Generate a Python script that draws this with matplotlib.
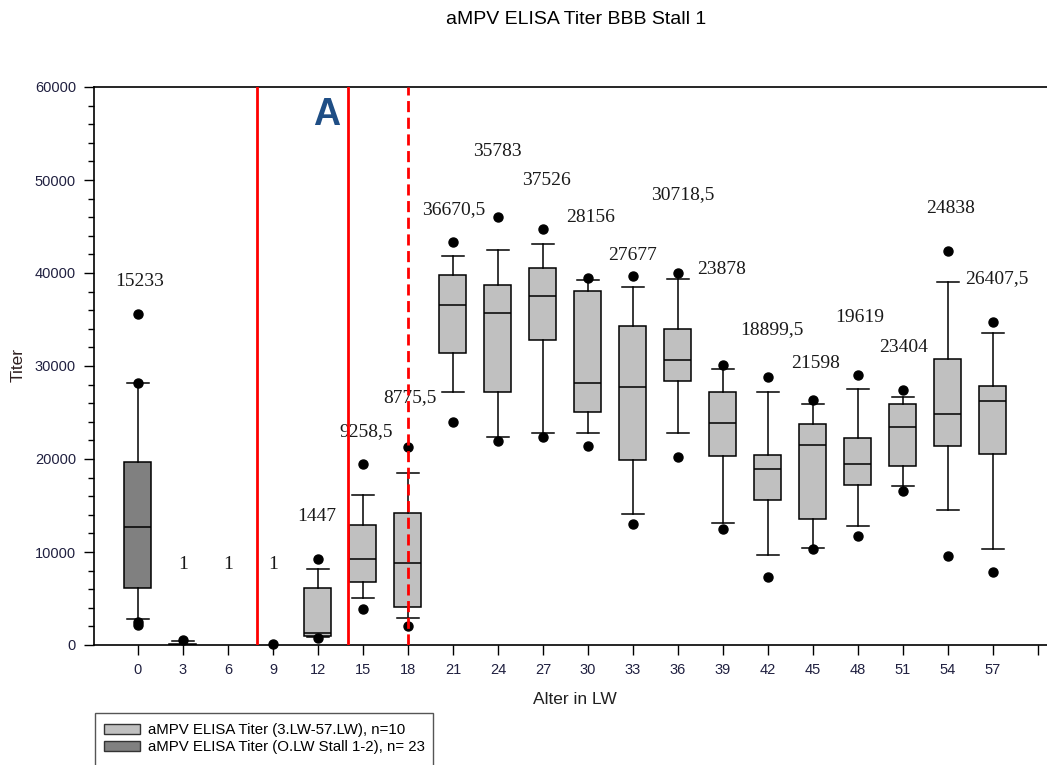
import matplotlib.pyplot as plt
from matplotlib.patches import Patch, Rectangle

plt.rcParams['font.family'] = ['Liberation Sans', 'DejaVu Sans']

# box statistics
positions = [0, 3, 12, 15, 18, 21, 24, 27, 30, 33, 36, 39, 42, 45, 48, 51, 54, 57]
q1 = [6090, 0, 970, 6740, 4120, 31360, 27160, 32790, 25090, 19890, 28350, 20350,
      15550, 13600, 17250, 19300, 21400, 20510]
med = [12650, 50, 1290, 9245, 8780, 36550, 35720, 37520, 28130, 27700, 30600, 23870,
       18960, 21480, 19510, 23480, 24840, 26280]
q3 = [19640, 120, 6100, 12900, 14160, 39810, 38700, 40490, 38090, 34290, 33970, 27200,
      20400, 23770, 22220, 25920, 30750, 27870]
whislo = [2760, 0, 850, 5020, 2870, 27230, 22400, 22830, 22830, 14080, 22790, 13150,
          9640, 10450, 12780, 17110, 14480, 10340]
whishi = [28130, 430, 8170, 16125, 18460, 41850, 42460, 43070, 39240, 38450, 39310, 29670,
          27180, 25950, 27540, 26690, 39010, 33570]
fliers = [[35580, 28200, 2500, 2100], [550], [9240, 800], [19425, 3835], [21320, 2040],
          [43290, 24010], [46050, 21960], [44720, 22400], [39420, 21390], [39670, 12970],
          [40030, 20180], [30100, 12500], [28830, 7310], [26360, 10370], [29060, 11750],
          [27390, 16560], [42410, 9520], [34750, 7830]]

single_x = [9]
single_y = [100]

label_x = [0.13, 3, 6, 9, 11.93, 15.2, 18.13, 21.07, 23.93, 27.2, 30.19, 32.99, 36.3,
           38.9, 42.25, 45.2, 48.13, 51.07, 54.18, 57.27]
label_y = [39130, 8700, 8700, 8700, 13870, 23000, 26550, 46870, 53030, 49910, 45980,
           41890, 48480, 40420, 33940, 30240, 35170, 32010, 46890, 39420]
label_txt = ["15233", "1", "1", "1", "1447", "9258,5", "8775,5", "36670,5", "35783",
             "37526", "28156", "27677", "30718,5", "23878", "18899,5", "21598", "19619",
             "23404", "24838", "26407,5"]

red_solid = [7.95, 14.02]
red_dashed = [17.98]

xticks = list(range(0, 61, 3))
xticklabels = [str(v) for v in range(0, 58, 3)] + [""]

fig = plt.figure(figsize=(10.47, 7.65), dpi=100)
ax = fig.add_axes([94 / 1047, 1 - 645 / 765, (1047 - 94) / 1047, (645 - 87) / 765])

stats = []
for i in range(len(positions)):
    stats.append(dict(q1=q1[i], med=med[i], q3=q3[i], whislo=whislo[i],
                      whishi=whishi[i], fliers=fliers[i]))

bp = ax.bxp(stats, positions=positions, widths=1.8, capwidths=1.45, patch_artist=True,
            manage_ticks=False,
            boxprops=dict(facecolor='#c0c0c0', edgecolor='black', linewidth=1.1),
            medianprops=dict(color='black', linewidth=1.1),
            whiskerprops=dict(color='black', linewidth=1.1),
            capprops=dict(color='black', linewidth=1.1),
            flierprops=dict(marker='o', markerfacecolor='black', markeredgecolor='black',
                            markersize=6.5, linestyle='none'))
bp['boxes'][0].set_facecolor('#808080')

ax.plot(single_x, single_y, 'o', color='black', markersize=6.5, clip_on=False, zorder=5)

for xv in red_solid:
    ax.axvline(xv, color='#ff0000', linewidth=2, zorder=4)
for xv in red_dashed:
    ax.axvline(xv, color='#ff0000', linewidth=2, linestyle=(0, (4, 2)), zorder=4)

for x, y, s in zip(label_x, label_y, label_txt):
    ax.text(x, y, s, ha='center', va='center', fontsize=14, family='Liberation Serif',
            color='#1a1a1a')

ax.text(12.6, 56980, "A", ha='center', va='center', fontsize=27, fontweight='bold',
        color='#1f4e85')

ax.set_xlim(-2.93, 60.6)
ax.set_ylim(0, 60000)
ax.set_xticks(xticks)
ax.set_xticklabels(xticklabels)
ax.set_yticks(range(0, 60001, 10000))
ax.set_yticks(range(0, 60001, 2000), minor=True)
ax.tick_params(axis='both', which='major', direction='out', length=7, width=1,
               labelsize=10.5, labelcolor='#202040', pad=6)
ax.tick_params(axis='y', which='minor', direction='out', length=4, width=1)
ax.spines['right'].set_visible(False)
for sp in ['top', 'left', 'bottom']:
    ax.spines[sp].set_linewidth(1.2)

fig.text(576 / 1047, 1 - 20 / 765, "aMPV ELISA Titer BBB Stall 1", ha='center',
         va='center', fontsize=14)
fig.text(18 / 1047, 1 - 365 / 765, "Titer", rotation=90, ha='center', va='center',
         fontsize=12.5, color='#302020')
fig.text(575 / 1047, 1 - 699 / 765, "Alter in LW", ha='center', va='center',
         fontsize=12.5, color='#202020')

handles = [Patch(facecolor='#c0c0c0', edgecolor='#333333', linewidth=1),
           Patch(facecolor='#808080', edgecolor='#333333', linewidth=1)]
fig.legend(handles, ["aMPV ELISA Titer (3.LW-57.LW), n=10",
                     "aMPV ELISA Titer (O.LW Stall 1-2), n= 23"],
           loc='upper left', bbox_to_anchor=(104 / 1047, 1 - 723 / 765), frameon=False,
           borderpad=0, borderaxespad=0, fontsize=10.8, handlelength=2.4,
           handleheight=0.7, handletextpad=0.5, labelspacing=0.2)
fig.add_artist(Rectangle((95 / 1047, -0.05), (433 - 95) / 1047, 0.05 + (765 - 713) / 765,
                         transform=fig.transFigure, fill=False, edgecolor='#555555',
                         linewidth=1))

fig.savefig('out.png', dpi=100)
